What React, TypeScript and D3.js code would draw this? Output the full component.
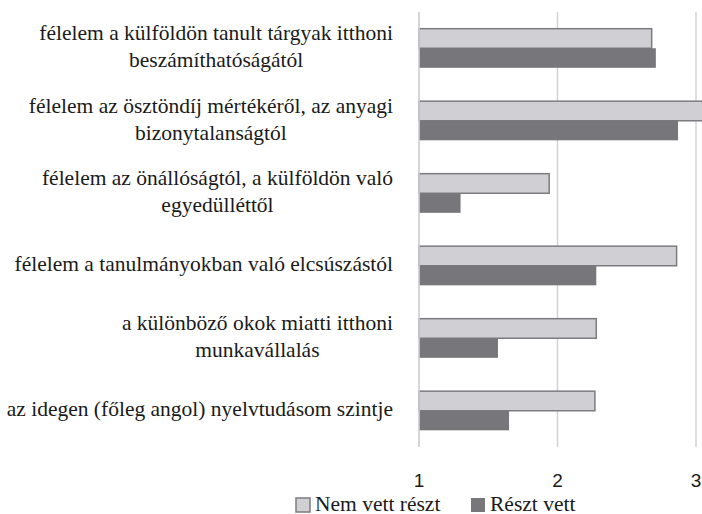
import React, { useEffect, useRef } from "react";
import * as d3 from "d3";

// category labels, already broken into lines as in the source chart
const categories = [
  ["félelem a külföldön tanult tárgyak itthoni", "beszámíthatóságától"],
  ["félelem az ösztöndíj mértékéről, az anyagi", "bizonytalanságtól"],
  ["félelem az önállóságtól, a külföldön való", "egyedülléttől"],
  ["félelem a tanulmányokban való elcsúszástól"],
  ["a különböző okok miatti itthoni", "munkavállalás"],
  ["az idegen (főleg angol) nyelvtudásom szintje"],
];

const seriesNames = ["Nem vett részt", "Részt vett"];
const nemVettReszt = [2.68, 3.06, 1.94, 2.86, 2.28, 2.27];
const resztVett = [2.71, 2.87, 1.3, 2.28, 1.57, 1.65];
const xTicks = [1, 2, 3];

const W = 702;
const H = 514;
const SERIF = "Liberation Serif, DejaVu Serif, serif";
const SANS = "Liberation Sans, Arial, sans-serif";
const colors = { light: "#d0d0d4", dark: "#77777b", border: "#7c7c80", grid: "#d3d3d7" };

const App = () => {
  const svgRef = useRef<SVGSVGElement>(null);

  useEffect(() => {
    const svg = d3.select(svgRef.current);
    svg.selectAll("*").remove();

    const plot = { left: 419, right: 696, top: 12, bottom: 447 };

    const x = d3.scaleLinear().domain([1, 3]).range([plot.left, plot.right]);

    const keys = categories.map((_, i) => String(i));
    const y = d3.scaleBand()
      .domain(keys)
      .range([plot.top, plot.bottom])
      .paddingInner(0.46)
      .paddingOuter(0.23);

    const ySub = d3.scaleBand()
      .domain(seriesNames)
      .range([0, y.bandwidth()]);

    // gridlines
    svg.append("g")
      .selectAll("line")
      .data(xTicks)
      .enter()
      .append("line")
      .attr("x1", d => x(d))
      .attr("x2", d => x(d))
      .attr("y1", plot.top)
      .attr("y2", plot.bottom)
      .attr("stroke", colors.grid)
      .attr("stroke-width", 1.5);

    // bars
    const groups = svg.append("g")
      .selectAll("g")
      .data(keys)
      .enter()
      .append("g")
      .attr("transform", d => `translate(0, ${y(d)})`);

    groups.append("rect")
      .attr("x", x(1))
      .attr("y", ySub(seriesNames[0])!)
      .attr("width", (_, i) => x(nemVettReszt[i]) - x(1))
      .attr("height", ySub.bandwidth())
      .attr("fill", colors.light)
      .attr("stroke", colors.border)
      .attr("stroke-width", 1.5);

    groups.append("rect")
      .attr("x", x(1))
      .attr("y", ySub(seriesNames[1])!)
      .attr("width", (_, i) => x(resztVett[i]) - x(1))
      .attr("height", ySub.bandwidth())
      .attr("fill", colors.dark);

    // redraw the axis line over the bar borders
    svg.append("line")
      .attr("x1", x(1))
      .attr("x2", x(1))
      .attr("y1", plot.top)
      .attr("y2", plot.bottom)
      .attr("stroke", colors.grid)
      .attr("stroke-width", 1.5);

    // category labels, centred block, right edge at 393
    const lineHeight = 27;
    const labelRight = 393;
    categories.forEach((lines, i) => {
      const cy = y(keys[i])! + y.bandwidth() / 2;
      const t = svg.append("text")
        .style("font-family", SERIF)
        .style("font-size", "21.5px")
        .attr("fill", "#1a1a1a")
        .attr("text-anchor", "middle");
      const spans = lines.map((line, j) =>
        t.append("tspan")
          .attr("y", cy + 5.5 + (j - (lines.length - 1) / 2) * lineHeight)
          .text(line)
      );
      const maxW = d3.max(spans, s => (s.node() as SVGTSpanElement).getComputedTextLength()) || 0;
      spans.forEach(s => s.attr("x", labelRight - maxW / 2));
    });

    // x tick labels
    svg.append("g")
      .selectAll("text")
      .data(xTicks)
      .enter()
      .append("text")
      .attr("x", d => x(d))
      .attr("y", 487)
      .attr("text-anchor", "middle")
      .style("font-family", SANS)
      .style("font-size", "19px")
      .attr("fill", "#1a1a1a")
      .text(d => d);

    // legend
    const legend = svg.append("g").attr("transform", "translate(296, 498)");
    const legendItems = [
      { name: seriesNames[0], fill: colors.light, stroke: colors.border, dx: 0 },
      { name: seriesNames[1], fill: colors.dark, stroke: "none", dx: 175 },
    ];
    const li = legend.selectAll("g")
      .data(legendItems)
      .enter()
      .append("g")
      .attr("transform", d => `translate(${d.dx}, 0)`);
    li.append("rect")
      .attr("width", 14)
      .attr("height", 14)
      .attr("fill", d => d.fill)
      .attr("stroke", d => d.stroke)
      .attr("stroke-width", 1.5);
    li.append("text")
      .attr("x", 19)
      .attr("y", 12.5)
      .style("font-family", SERIF)
      .style("font-size", "21.5px")
      .attr("fill", "#1a1a1a")
      .text(d => d.name);
  }, []);

  return (
    <div style={{ position: "absolute", left: 0, top: 0, width: W, height: H, background: "#fff" }}>
      <svg ref={svgRef} width={W} height={H} style={{ display: "block", overflow: "hidden" }} />
    </div>
  );
};

export default App;
